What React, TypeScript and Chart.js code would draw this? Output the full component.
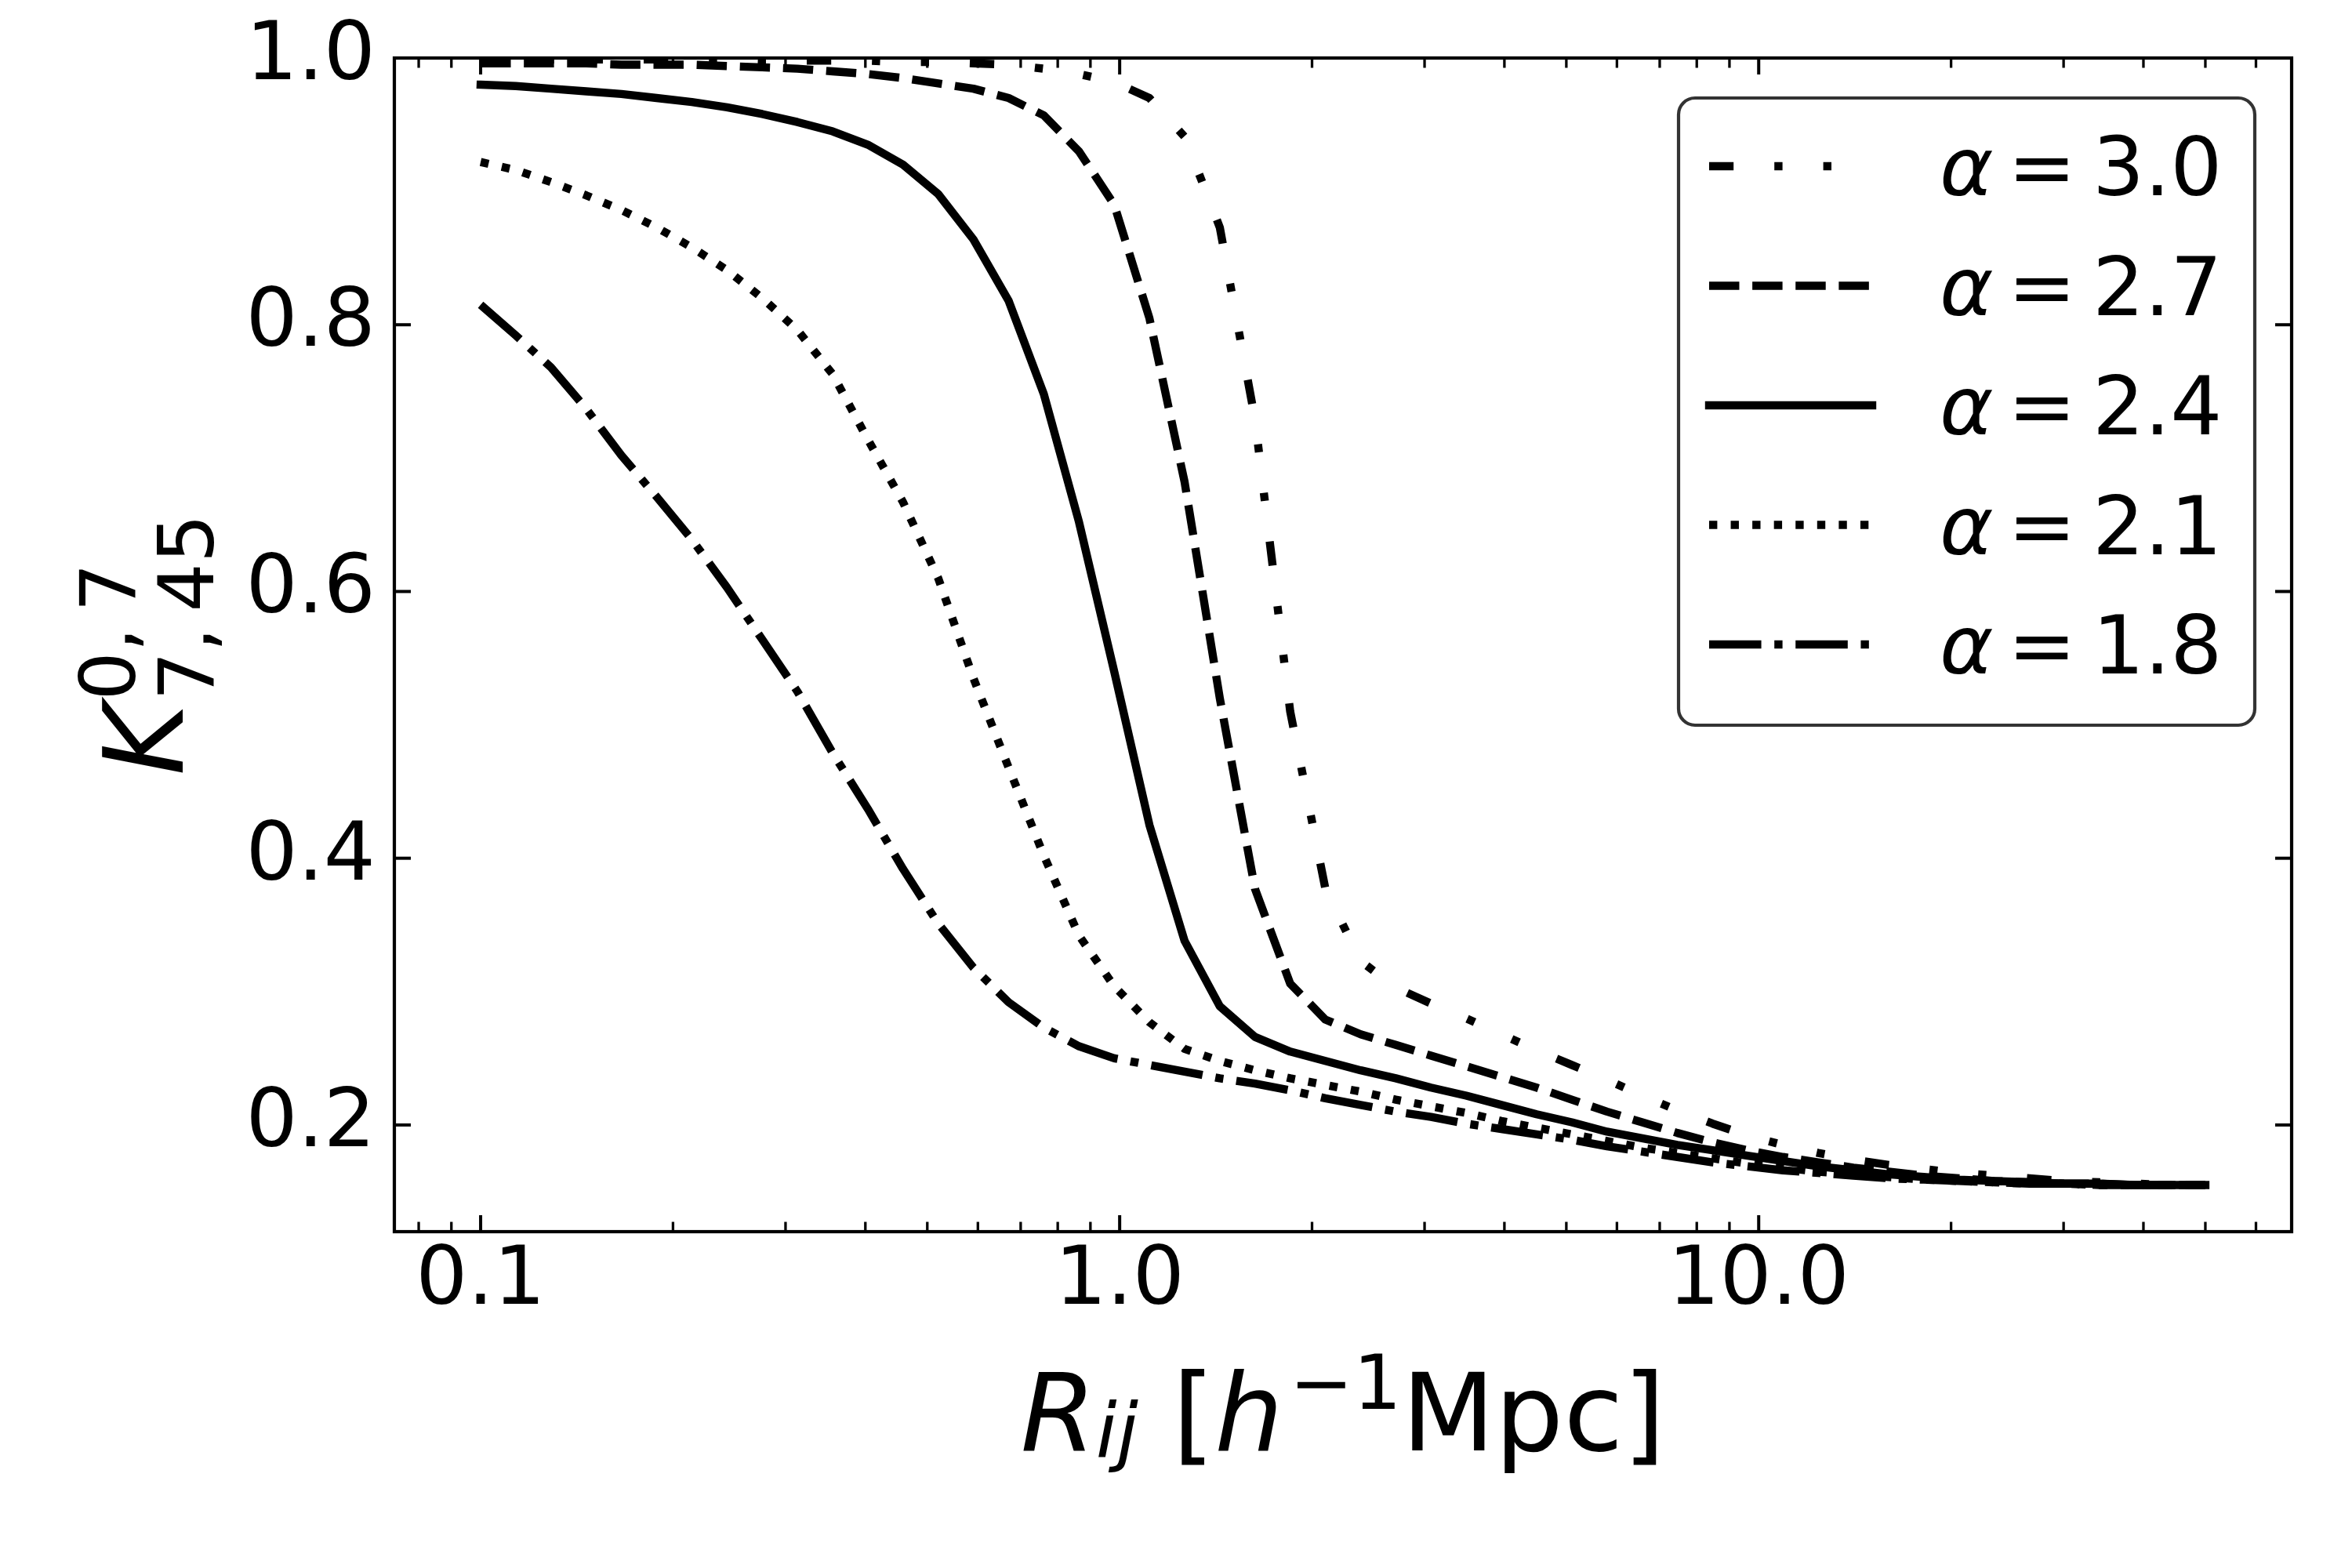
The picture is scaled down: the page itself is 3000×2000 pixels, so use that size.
import React, { useEffect, useRef } from 'react';
import { Chart, registerables } from 'chart.js';

Chart.register(...registerables);

// ---------- data ----------
const RADII = [
  0.1, 0.11352, 0.12887, 0.1463, 0.16608, 0.18854, 0.21404, 0.24298, 0.27584, 0.31314,
  0.35548, 0.40355, 0.45812, 0.52007, 0.5904, 0.67023, 0.76087, 0.86375, 0.98055, 1.1131,
  1.2637, 1.4345, 1.6285, 1.8487, 2.0987, 2.3825, 2.7046, 3.0704, 3.4856, 3.9569,
  4.492, 5.0994, 5.789, 6.5718, 7.4605, 8.4693, 9.6146, 10.915, 12.391, 14.066,
  15.968, 18.127, 20.578, 23.361, 26.52, 30.106, 34.177, 38.799, 44.046, 50.0,
];

const K_ALPHA_30 = [
  0.999, 0.999, 0.999, 0.999, 0.999, 0.999, 0.999, 0.999, 0.998, 0.998,
  0.998, 0.998, 0.997, 0.997, 0.996, 0.995, 0.992, 0.988, 0.982, 0.970,
  0.941, 0.873, 0.729, 0.510, 0.377, 0.323, 0.303, 0.291, 0.280, 0.268,
  0.256, 0.245, 0.234, 0.222, 0.211, 0.201, 0.192, 0.185, 0.179, 0.174,
  0.170, 0.167, 0.164, 0.162, 0.160, 0.158, 0.157, 0.156, 0.155, 0.155,
];

const K_ALPHA_27 = [
  0.996, 0.996, 0.996, 0.996, 0.995, 0.995, 0.995, 0.994, 0.993, 0.992,
  0.990, 0.988, 0.985, 0.981, 0.977, 0.970, 0.957, 0.930, 0.890, 0.805,
  0.682, 0.520, 0.377, 0.306, 0.279, 0.268, 0.260, 0.252, 0.244, 0.236,
  0.228, 0.219, 0.210, 0.202, 0.194, 0.187, 0.181, 0.176, 0.172, 0.168,
  0.165, 0.162, 0.160, 0.158, 0.157, 0.156, 0.156, 0.155, 0.155, 0.155,
];

const K_ALPHA_24 = [
  0.980, 0.979, 0.977, 0.975, 0.973, 0.970, 0.967, 0.963, 0.958, 0.952,
  0.945, 0.935, 0.920, 0.898, 0.864, 0.818, 0.748, 0.652, 0.540, 0.425,
  0.338, 0.289, 0.266, 0.255, 0.248, 0.241, 0.235, 0.228, 0.222, 0.215,
  0.208, 0.202, 0.195, 0.190, 0.185, 0.181, 0.177, 0.173, 0.169, 0.166,
  0.163, 0.161, 0.159, 0.158, 0.157, 0.156, 0.156, 0.155, 0.155, 0.155,
];

const K_ALPHA_21 = [
  0.922, 0.916, 0.907, 0.897, 0.886, 0.873, 0.858, 0.841, 0.820, 0.796,
  0.763, 0.714, 0.667, 0.610, 0.535, 0.468, 0.402, 0.342, 0.304, 0.277,
  0.257, 0.248, 0.241, 0.235, 0.230, 0.225, 0.219, 0.214, 0.209, 0.203,
  0.198, 0.193, 0.188, 0.183, 0.179, 0.175, 0.171, 0.168, 0.165, 0.163,
  0.161, 0.159, 0.158, 0.157, 0.156, 0.156, 0.155, 0.155, 0.155, 0.155,
];

const K_ALPHA_18 = [
  0.815, 0.792, 0.768, 0.737, 0.702, 0.671, 0.639, 0.603, 0.564, 0.525,
  0.479, 0.437, 0.392, 0.351, 0.318, 0.292, 0.273, 0.259, 0.250, 0.245,
  0.240, 0.235, 0.231, 0.226, 0.220, 0.215, 0.210, 0.206, 0.201, 0.197,
  0.193, 0.189, 0.184, 0.180, 0.176, 0.172, 0.169, 0.166, 0.164, 0.162,
  0.160, 0.159, 0.158, 0.157, 0.156, 0.156, 0.155, 0.155, 0.155, 0.155,
];

const ALPHA_LABELS = ['3.0', '2.7', '2.4', '2.1', '1.8'];
const X_MAJOR_TICKS = [0.1, 1, 10];
const X_MINOR_TICKS = [0.08, 0.09, 0.2, 0.3, 0.4, 0.5, 0.6, 0.7, 0.8, 0.9, 2, 3, 4, 5, 6, 7, 8, 9, 20, 30, 40, 50, 60];
const Y_TICKS = [0.2, 0.4, 0.6, 0.8, 1.0];
const X_MIN = 0.07328;
const X_MAX = 68.23;
const Y_MIN = 0.12;
const Y_MAX = 1.0;

// ---------- styles ----------
const FONT = '"DejaVu Sans", "Liberation Sans", sans-serif';
const LW = 10.4;
const DASHES: number[][] = [
  [3 * LW, 5 * LW, 1 * LW, 5 * LW, 1 * LW, 5 * LW], // dash-dot-dot
  [3.7 * LW, 1.6 * LW], // dashed
  [], // solid
  [1 * LW, 1.65 * LW], // dotted
  [6.4 * LW, 1.6 * LW, 1 * LW, 1.6 * LW], // dash-dot
];
const SERIES = [K_ALPHA_30, K_ALPHA_27, K_ALPHA_24, K_ALPHA_21, K_ALPHA_18];

type Seg = { t: string; s: number; it?: boolean; dy?: number; dx?: number };

function segFont(sg: Seg) {
  return `${sg.it ? 'italic ' : ''}${sg.s}px ${FONT}`;
}

function drawRich(ctx: CanvasRenderingContext2D, segs: Seg[], cx: number, baseY: number) {
  let total = 0;
  for (const sg of segs) {
    ctx.font = segFont(sg);
    total += (sg.dx || 0) + ctx.measureText(sg.t).width;
  }
  let x = cx - total / 2;
  ctx.textAlign = 'left';
  ctx.textBaseline = 'alphabetic';
  for (const sg of segs) {
    ctx.font = segFont(sg);
    x += sg.dx || 0;
    ctx.fillText(sg.t, x, baseY + (sg.dy || 0));
    x += ctx.measureText(sg.t).width;
  }
}

const framePlugin = {
  id: 'frameTicks',
  afterDatasetsDraw(chart: any) {
    const { ctx, chartArea: a, scales } = chart;
    const xs = scales.x;
    const ys = scales.y;
    ctx.save();
    ctx.strokeStyle = '#000';
    ctx.lineCap = 'butt';
    const seg = (x1: number, y1: number, x2: number, y2: number, w: number) => {
      ctx.lineWidth = w;
      ctx.beginPath();
      ctx.moveTo(x1, y1);
      ctx.lineTo(x2, y2);
      ctx.stroke();
    };
    const MAJ = 21;
    const MIN = 12.5;
    for (const v of X_MAJOR_TICKS) {
      const p = xs.getPixelForValue(v);
      seg(p, a.bottom, p, a.bottom - MAJ, 4);
      seg(p, a.top, p, a.top + MAJ, 4);
    }
    for (const v of X_MINOR_TICKS) {
      const p = xs.getPixelForValue(v);
      seg(p, a.bottom, p, a.bottom - MIN, 3.3);
      seg(p, a.top, p, a.top + MIN, 3.3);
    }
    for (const v of Y_TICKS) {
      const p = ys.getPixelForValue(v);
      seg(a.left, p, a.left + MAJ, p, 4);
      seg(a.right, p, a.right - MAJ, p, 4);
    }
    ctx.lineWidth = 4.2;
    ctx.strokeRect(a.left, a.top, a.right - a.left, a.bottom - a.top);
    ctx.restore();
  },
};

const textPlugin = {
  id: 'titlesLegend',
  afterDraw(chart: any) {
    const { ctx, chartArea: a } = chart;
    ctx.save();
    ctx.fillStyle = '#000';

    // x title
    const cx = (a.left + a.right) / 2;
    drawRich(
      ctx,
      [
        { t: 'R', s: 138, it: true },
        { t: 'ij', s: 97, it: true, dy: 8 },
        { t: ' [', s: 138 },
        { t: 'h', s: 138, it: true },
        { t: '\u22121', s: 97, dy: -53, dx: 8 },
        { t: 'Mpc]', s: 138 },
      ],
      cx,
      a.bottom + 279,
    );

    // y title (rotated)
    const cy = (a.top + a.bottom) / 2;
    ctx.save();
    ctx.translate(a.left - 270, cy);
    ctx.rotate(-Math.PI / 2);
    ctx.textAlign = 'left';
    ctx.textBaseline = 'alphabetic';
    const kFont = `italic 140px ${FONT}`;
    const sFont = `98px ${FONT}`;
    ctx.font = kFont;
    const kW = ctx.measureText('K').width;
    ctx.font = sFont;
    const supT = '0,\u20097';
    const subT = '7,\u200945';
    const supW = ctx.measureText(supT).width;
    const subW = ctx.measureText(subT).width;
    const tot = kW + 4 + Math.max(supW, subW);
    const x0 = -tot / 2;
    ctx.font = kFont;
    ctx.fillText('K', x0, 0);
    ctx.font = sFont;
    ctx.fillText(supT, x0 + kW + 4, -61);
    ctx.fillText(subT, x0 + kW + 4, 39);
    ctx.restore();

    // legend
    const bw = 735;
    const bh = 800;
    const bx = a.right - 47 - bw;
    const by = a.top + 51;
    const r = 21;
    ctx.beginPath();
    ctx.moveTo(bx + r, by);
    ctx.lineTo(bx + bw - r, by);
    ctx.arcTo(bx + bw, by, bx + bw, by + r, r);
    ctx.lineTo(bx + bw, by + bh - r);
    ctx.arcTo(bx + bw, by + bh, bx + bw - r, by + bh, r);
    ctx.lineTo(bx + r, by + bh);
    ctx.arcTo(bx, by + bh, bx, by + bh - r, r);
    ctx.lineTo(bx, by + r);
    ctx.arcTo(bx, by, bx + r, by, r);
    ctx.closePath();
    ctx.fillStyle = 'rgba(255,255,255,0.8)';
    ctx.fill();
    ctx.lineWidth = 4.2;
    ctx.strokeStyle = 'rgba(0,0,0,0.8)';
    ctx.stroke();

    ctx.fillStyle = '#000';
    ctx.strokeStyle = '#000';
    for (let i = 0; i < ALPHA_LABELS.length; i++) {
      const base = by + 124 + i * 152.5;
      const ly = base - 37;
      const dash = DASHES[i];
      ctx.lineWidth = LW;
      ctx.setLineDash(dash);
      ctx.lineDashOffset = 0;
      ctx.lineCap = dash.length ? 'butt' : 'square';
      ctx.beginPath();
      ctx.moveTo(bx + 39, ly);
      ctx.lineTo(bx + 247, ly);
      ctx.stroke();
      ctx.setLineDash([]);
      ctx.textAlign = 'left';
      ctx.textBaseline = 'alphabetic';
      ctx.font = `italic 104px ${FONT}`;
      ctx.fillText('\u03b1', bx + 333, base);
      ctx.font = `104px ${FONT}`;
      ctx.fillText('=', bx + 420, base);
      ctx.fillText(ALPHA_LABELS[i], bx + 528, base);
    }
    ctx.restore();
  },
};

export default function App() {
  const ref = useRef<HTMLCanvasElement | null>(null);

  useEffect(() => {
    document.body.style.margin = '0';
    const canvas = ref.current;
    if (!canvas) return;
    const datasets = SERIES.map((vals, i) => ({
      label: `\u03b1 = ${ALPHA_LABELS[i]}`,
      data: RADII.map((x, j) => ({ x, y: vals[j] })),
      borderColor: '#000',
      backgroundColor: '#000',
      borderWidth: LW,
      borderDash: DASHES[i],
      borderCapStyle: DASHES[i].length ? 'butt' : 'square',
      borderJoinStyle: 'round',
      pointRadius: 0,
      pointHoverRadius: 0,
      fill: false,
      tension: 0,
      order: 4 - i,
    }));
    const chart = new Chart(canvas, {
      type: 'line',
      data: { datasets: datasets as any },
      options: {
        responsive: false,
        maintainAspectRatio: false,
        animation: false,
        devicePixelRatio: 1,
        layout: { padding: { left: 0, right: 77, top: 74, bottom: 0 } },
        plugins: { legend: { display: false }, tooltip: { enabled: false } },
        scales: {
          x: {
            type: 'logarithmic',
            position: 'bottom',
            min: X_MIN,
            max: X_MAX,
            afterBuildTicks: (s: any) => {
              s.ticks = X_MAJOR_TICKS.map((v) => ({ value: v }));
            },
            afterFit: (s: any) => {
              s.height = 429;
              s.paddingLeft = 0;
              s.paddingRight = 0;
              s.paddingTop = 0;
              s.paddingBottom = 0;
            },
            ticks: {
              callback: (v: any) => Number(v).toFixed(1),
              font: { family: FONT, size: 104 },
              color: '#000',
              padding: 3,
              maxRotation: 0,
              minRotation: 0,
              autoSkip: false,
            },
            grid: { display: false, drawTicks: false },
            border: { display: false },
          },
          y: {
            type: 'linear',
            position: 'left',
            min: Y_MIN,
            max: Y_MAX,
            afterBuildTicks: (s: any) => {
              s.ticks = Y_TICKS.map((v) => ({ value: v }));
            },
            afterFit: (s: any) => {
              s.width = 503;
              s.paddingLeft = 0;
              s.paddingRight = 0;
              s.paddingTop = 0;
              s.paddingBottom = 0;
            },
            ticks: {
              callback: (v: any) => Number(v).toFixed(1),
              font: { family: FONT, size: 104 },
              color: '#000',
              padding: 24,
              autoSkip: false,
            },
            grid: { display: false, drawTicks: false },
            border: { display: false },
          },
        },
      },
      plugins: [framePlugin, textPlugin],
    } as any);
    return () => chart.destroy();
  }, []);

  return (
    <div style={{ position: 'absolute', left: 0, top: 0, width: 3000, height: 2000, background: '#fff' }}>
      <canvas ref={ref} width={3000} height={2000} style={{ display: 'block', width: 3000, height: 2000 }} />
    </div>
  );
}
